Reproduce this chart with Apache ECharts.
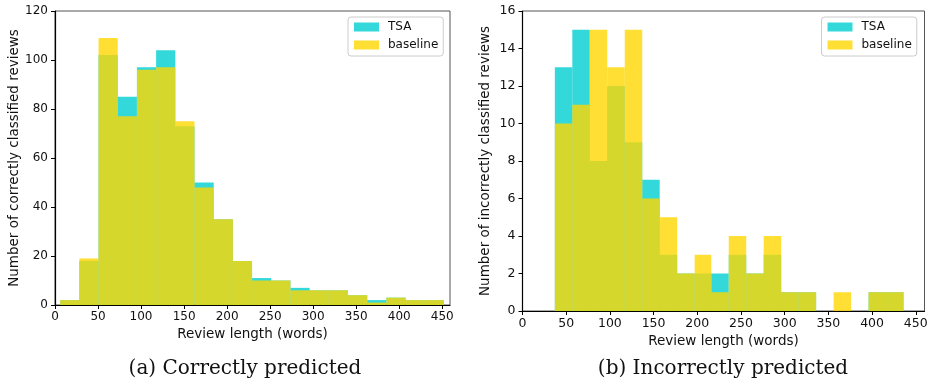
<!DOCTYPE html>
<html>
<head>
<meta charset="utf-8">
<script src="https://cdn.jsdelivr.net/npm/echarts@6/dist/echarts.min.js"></script>
<style>
  html, body { margin: 0; padding: 0; background: #fff; }
  #chart { width: 935px; height: 385px; }
</style>
</head>
<body>
<div id="chart"></div>
<script>
// Histogram bin edges (review length in words)
const correctEdges = [6, 28.3, 50.6, 72.9, 95.2, 117.5, 139.8, 162.1, 184.4, 206.7, 229,
                      251.3, 273.6, 295.9, 318.2, 340.5, 362.8, 385.1, 407.4, 429.7, 452];
const incorrectEdges = [37, 57, 77, 97, 117, 137, 157, 177, 197, 216, 236,
                        256, 276, 296, 316, 336, 356, 376, 396, 416, 436];

// Counts per bin: correctly classified reviews
const correctTSA      = [2, 18, 102, 85, 97, 104, 73, 50, 35, 18, 11, 10, 7, 6, 6, 4, 2, 3, 2, 2];
const correctBaseline = [2, 19, 109, 77, 96, 97, 75, 48, 35, 18, 10, 10, 6, 6, 6, 4, 1, 3, 2, 2];

// Counts per bin: incorrectly classified reviews
const incorrectTSA      = [13, 15, 8, 12, 9, 7, 3, 2, 2, 2, 3, 2, 3, 1, 1, 0, 0, 0, 1, 1];
const incorrectBaseline = [10, 11, 15, 13, 15, 6, 5, 2, 3, 1, 4, 2, 4, 1, 1, 0, 1, 0, 1, 1];

// Axis tick labels
const xTicks = [0, 50, 100, 150, 200, 250, 300, 350, 400, 450];
const yTicksCorrect = [0, 20, 40, 60, 80, 100, 120];
const yTicksIncorrect = [0, 2, 4, 6, 8, 10, 12, 14, 16];

const seriesNames = ['TSA', 'baseline'];
const captions = ['(a) Correctly predicted', '(b) Incorrectly predicted'];
const xTitle = 'Review length (words)';
const yTitles = ['Number of correctly classified reviews', 'Number of incorrectly classified reviews'];

const colTSA = 'rgba(0,206,209,0.8)';
const colBase = 'rgba(255,215,0,0.8)';
const font = 'DejaVu Sans';
const ink = '#111';

function toBins(edges, counts) {
  return counts.map((c, i) => [edges[i], edges[i + 1], c]);
}

function renderBar(params, api) {
  const p0 = api.coord([api.value(0), api.value(2)]);
  const p1 = api.coord([api.value(1), 0]);
  return {
    type: 'rect',
    shape: { x: p0[0], y: p0[1], width: p1[0] - p0[0], height: p1[1] - p0[1] },
    style: { fill: api.visual('color') }
  };
}

function histSeries(name, color, idx, data) {
  return {
    type: 'custom',
    name: name,
    xAxisIndex: idx,
    yAxisIndex: idx,
    renderItem: renderBar,
    itemStyle: { color: color },
    encode: { x: [0, 1], y: 2 },
    data: data,
    silent: true
  };
}

const grids = [
  { left: 55, top: 11, width: 395, height: 294 },
  { left: 522.5, top: 11, width: 402, height: 300 }
];

function xAxisFor(idx, max, size) {
  return {
    type: 'value', gridIndex: idx, min: 0, max: max,
    name: xTitle, nameLocation: 'middle', nameGap: 22,
    nameTextStyle: { fontFamily: font, fontSize: 13.5, color: ink },
    axisLine: { show: true, lineStyle: { color: '#000', width: 1.2 } },
    axisTick: { show: true, inside: false, length: 4, customValues: xTicks, lineStyle: { color: '#000' } },
    axisLabel: { customValues: xTicks, margin: 6, fontFamily: font, fontSize: size, color: ink },
    splitLine: { show: false }
  };
}

function yAxisFor(idx, max, ticks, gap, size) {
  return {
    type: 'value', gridIndex: idx, min: 0, max: max,
    name: yTitles[idx], nameLocation: 'middle', nameGap: gap,
    nameTextStyle: { fontFamily: font, fontSize: 13.5, color: ink },
    axisLine: { show: true, lineStyle: { color: '#000', width: 1.2 } },
    axisTick: { show: true, inside: false, length: 4, customValues: ticks, lineStyle: { color: '#000' } },
    axisLabel: { customValues: ticks, margin: 7, fontFamily: font, fontSize: size, color: ink },
    splitLine: { show: false }
  };
}

function legendFor(left, top) {
  return {
    left: left, top: top, orient: 'vertical',
    data: seriesNames.map(n => ({ name: n, icon: 'rect' })),
    itemWidth: 25, itemHeight: 9, itemGap: 4,
    padding: [3, 5, 4, 6],
    textStyle: { fontFamily: font, fontSize: 12, color: ink, lineHeight: 14, padding: [0, 0, 0, 4] },
    borderColor: '#cccccc', borderWidth: 1, borderRadius: 3,
    backgroundColor: 'rgba(255,255,255,0.8)',
    selectedMode: false
  };
}

const chart = echarts.init(document.getElementById('chart'), null, { renderer: 'canvas' });
chart.setOption({
  animation: false,
  backgroundColor: '#fff',
  grid: grids.map(g => Object.assign({ show: true, borderColor: '#555', borderWidth: 1, backgroundColor: 'transparent' }, g)),
  xAxis: [xAxisFor(0, 459, 12), xAxisFor(1, 460, 12.5)],
  yAxis: [yAxisFor(0, 120, yTicksCorrect, 34, 12), yAxisFor(1, 16, yTicksIncorrect, 30, 12.5)],
  legend: [legendFor(348, 17), legendFor(821.5, 17)],
  series: [
    histSeries(seriesNames[0], colTSA, 0, toBins(correctEdges, correctTSA)),
    histSeries(seriesNames[1], colBase, 0, toBins(correctEdges, correctBaseline)),
    histSeries(seriesNames[0], colTSA, 1, toBins(incorrectEdges, incorrectTSA)),
    histSeries(seriesNames[1], colBase, 1, toBins(incorrectEdges, incorrectBaseline))
  ],
  graphic: [
    { type: 'text', x: 245, y: 369, style: { text: captions[0], font: '20px "DejaVu Serif"', fill: ink, align: 'center', verticalAlign: 'middle' } },
    { type: 'text', x: 723, y: 369, style: { text: captions[1], font: '20px "DejaVu Serif"', fill: ink, align: 'center', verticalAlign: 'middle' } }
  ]
});
</script>
</body>
</html>
